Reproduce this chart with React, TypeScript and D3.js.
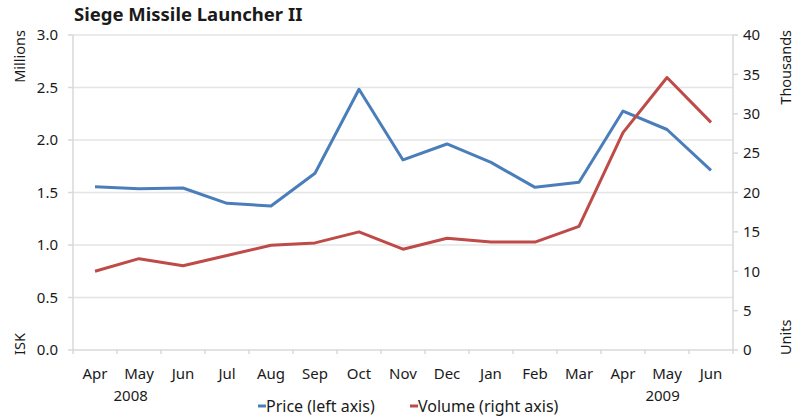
import React from "react";
import * as d3 from "d3";

const months = ["Apr", "May", "Jun", "Jul", "Aug", "Sep", "Oct", "Nov", "Dec", "Jan", "Feb", "Mar", "Apr", "May", "Jun"];
const categories = months.map((m, i) => `${m}-${i}`);
const price = [1.555, 1.536, 1.543, 1.397, 1.371, 1.683, 2.483, 1.81, 1.962, 1.787, 1.549, 1.597, 2.276, 2.1, 1.711];
const volume = [10.0, 11.6, 10.7, 12.0, 13.3, 13.6, 15.0, 12.8, 14.2, 13.7, 13.7, 15.7, 27.6, 34.6, 28.9];
const leftTicks = [0, 0.5, 1.0, 1.5, 2.0, 2.5, 3.0];
const rightTicks = [0, 5, 10, 15, 20, 25, 30, 35, 40];
const years = [
  { label: "2008", at: 0, offset: 0.81 },
  { label: "2009", at: 13, offset: -0.1 },
];
const seriesNames = ["Price (left axis)", "Volume (right axis)"];

const W = 796;
const H = 420;
const M = { left: 73, right: 733, top: 35, bottom: 350 };
const BLUE = "#4a7ebb";
const RED = "#be4b48";
const FONT = "'Noto Sans', 'Open Sans', sans-serif";

export default function App() {
  const x = d3.scaleBand<string>().domain(categories).range([M.left, M.right]).padding(0);
  const cx = (i: number) => (x(categories[i]) as number) + x.bandwidth() / 2;
  const yL = d3.scaleLinear().domain([0, 3]).range([M.bottom, M.top]);
  const yR = d3.scaleLinear().domain([0, 40]).range([M.bottom, M.top]);

  const linePrice = d3.line<number>().x((_, i) => cx(i)).y((d) => yL(d));
  const lineVol = d3.line<number>().x((_, i) => cx(i)).y((d) => yR(d));

  const tickFont = 15;
  const boundaries = d3.range(categories.length + 1).map((i) => M.left + i * x.bandwidth());

  return (
    <svg width={W} height={H} style={{ position: "absolute", left: 0, top: 0, background: "#fff" }} fontFamily={FONT}>
      <rect x={0} y={0} width={W} height={H} fill="#fff" />
      <text x={74} y={21} fontSize={18.5} fontWeight="bold" fill="#1a1a1a">Siege Missile Launcher II</text>

      {/* gridlines */}
      {leftTicks.slice(1).map((t) => (
        <line key={"g" + t} x1={M.left} x2={M.right} y1={yL(t)} y2={yL(t)} stroke="#e4e4e4" strokeWidth={1.5} />
      ))}
      {/* axes */}
      <line x1={M.left} x2={M.left} y1={M.top} y2={M.bottom} stroke="#d9d9d9" strokeWidth={1.5} />
      <line x1={M.right} x2={M.right} y1={M.top} y2={M.bottom} stroke="#d9d9d9" strokeWidth={1.5} />
      <line x1={M.left} x2={M.right} y1={M.bottom} y2={M.bottom} stroke="#d9d9d9" strokeWidth={1.5} />
      {leftTicks.map((t) => (
        <g key={"l" + t}>
          <line x1={M.left - 5} x2={M.left} y1={yL(t)} y2={yL(t)} stroke="#d9d9d9" strokeWidth={1.5} />
          <text x={58} y={yL(t)} dy="0.35em" textAnchor="end" fontSize={tickFont} fill="#1a1a1a">{t.toFixed(1)}</text>
        </g>
      ))}
      {rightTicks.map((t) => (
        <g key={"r" + t}>
          <line x1={M.right} x2={M.right + 5} y1={yR(t)} y2={yR(t)} stroke="#d9d9d9" strokeWidth={1.5} />
          <text x={743} y={yR(t)} dy="0.35em" textAnchor="start" fontSize={tickFont} fill="#1a1a1a">{t}</text>
        </g>
      ))}
      {boundaries.map((b, i) => (
        <line key={"b" + i} x1={b} x2={b} y1={M.bottom} y2={M.bottom + 4} stroke="#d9d9d9" strokeWidth={1.5} />
      ))}
      {months.map((m, i) => (
        <text key={"m" + i} x={cx(i)} y={379} textAnchor="middle" fontSize={tickFont} fill="#1a1a1a">{m}</text>
      ))}
      {years.map((yr) => (
        <text key={yr.label} x={cx(yr.at) + yr.offset * x.bandwidth()} y={401} textAnchor="middle" fontSize={tickFont} fill="#1a1a1a">{yr.label}</text>
      ))}

      {/* axis titles */}
      <text transform={`translate(25,${M.top - 5}) rotate(-90)`} textAnchor="end" fontSize={14.5} fill="#1a1a1a">Millions</text>
      <text transform={`translate(25,${M.bottom + 5}) rotate(-90)`} textAnchor="start" fontSize={14.5} fill="#1a1a1a">ISK</text>
      <text transform={`translate(791,${M.top - 5}) rotate(-90)`} textAnchor="end" fontSize={14.5} fill="#1a1a1a">Thousands</text>
      <text transform={`translate(791,${M.bottom + 5}) rotate(-90)`} textAnchor="start" fontSize={14.5} fill="#1a1a1a">Units</text>

      {/* lines */}
      <path d={linePrice(price) as string} fill="none" stroke={BLUE} strokeWidth={3} strokeLinejoin="round" />
      <path d={lineVol(volume) as string} fill="none" stroke={RED} strokeWidth={3} strokeLinejoin="round" />

      {/* legend */}
      <line x1={258} x2={266} y1={406} y2={406} stroke={BLUE} strokeWidth={3} />
      <text x={266} y={406} dy="0.35em" fontSize={16} fill="#1a1a1a">{seriesNames[0]}</text>
      <line x1={410} x2={418} y1={406} y2={406} stroke={RED} strokeWidth={3} />
      <text x={418} y={406} dy="0.35em" fontSize={16} fill="#1a1a1a">{seriesNames[1]}</text>
    </svg>
  );
}
